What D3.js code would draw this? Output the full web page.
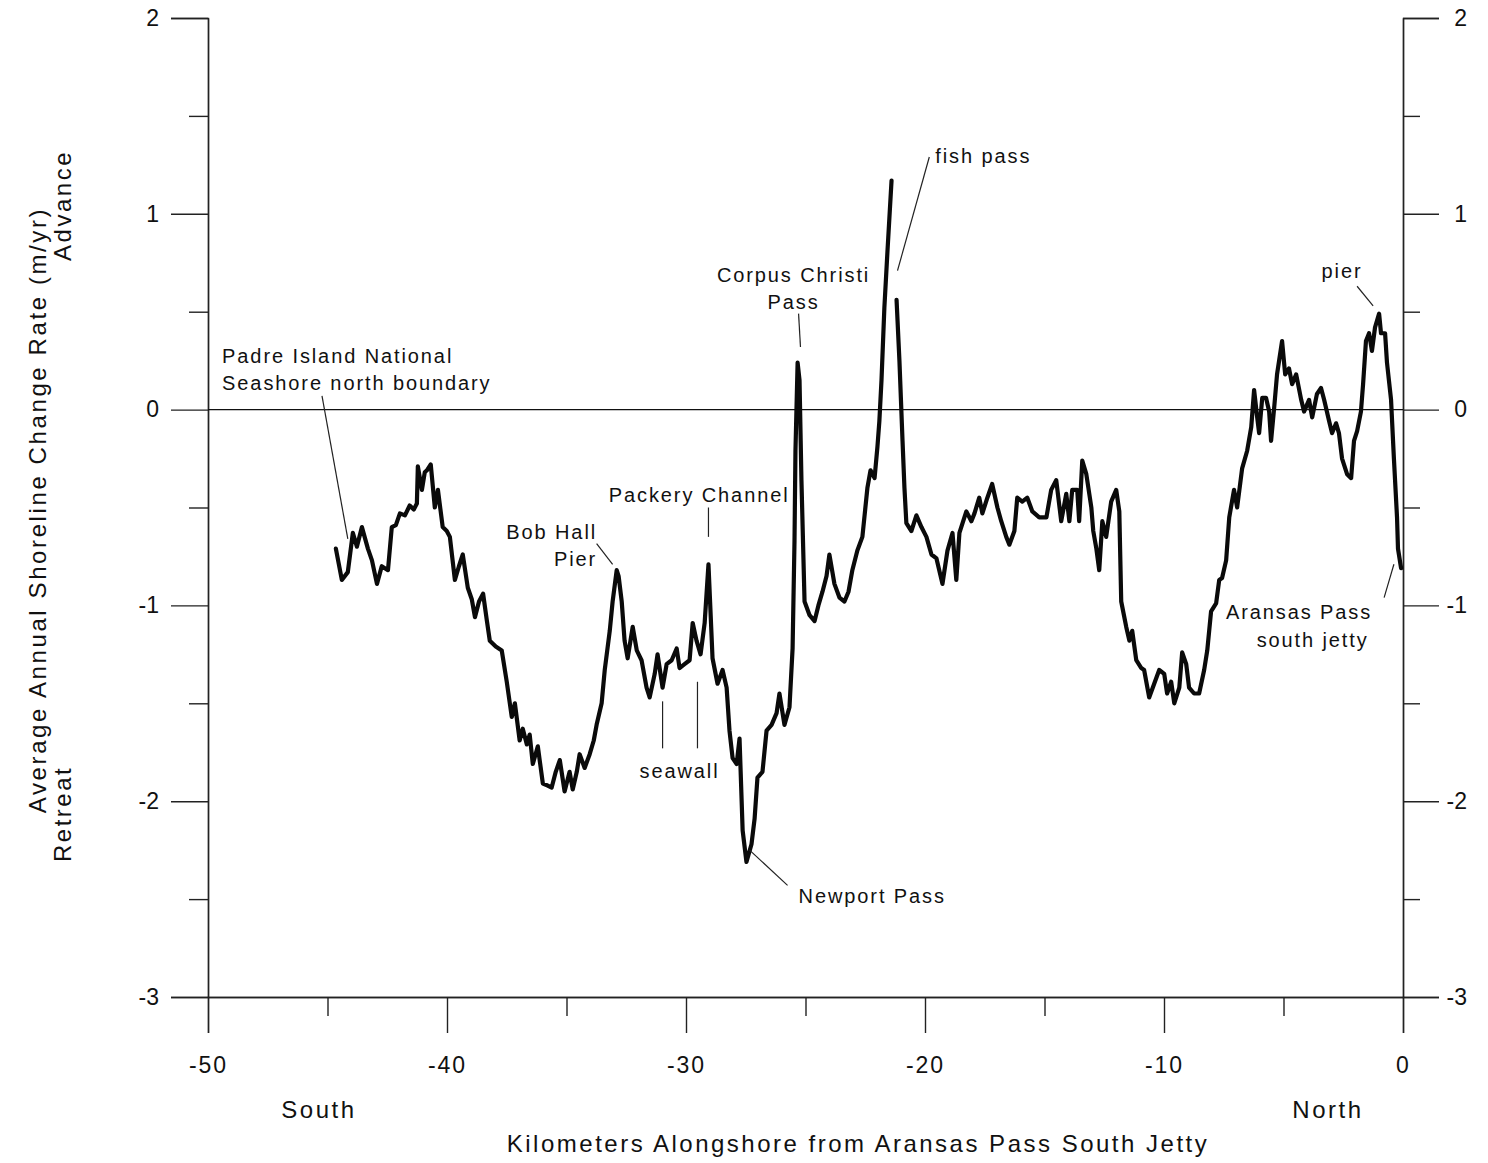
<!DOCTYPE html>
<html>
<head>
<meta charset="utf-8">
<script src="https://cdn.jsdelivr.net/npm/d3@7"></script>
<style>
  body { margin: 0; background: #fff; }
  text { font-family: "Liberation Sans", Arial, sans-serif; fill: #111; }
</style>
</head>
<body>
<div id="chart"></div>
<script>
// Shoreline change rate along the coast
// km alongshore (negative = south of the jetty), rate in m/yr. NaN marks the gap at fish pass.
const km = [
  -44.65, -44.40, -44.15, -43.94, -43.77, -43.56, -43.31, -43.14, -42.93, -42.73,
  -42.47, -42.31, -42.14, -41.97, -41.76, -41.56, -41.39, -41.26, -41.22, -41.05,
  -40.93, -40.84, -40.68, -40.51, -40.38, -40.18, -40.01, -39.88, -39.67, -39.50,
  -39.34, -39.13, -38.96, -38.83, -38.66, -38.49, -38.33, -38.21, -37.96, -37.71,
  -37.50, -37.29, -37.16, -36.96, -36.83, -36.66, -36.54, -36.41, -36.20, -35.99,
  -35.79, -35.62, -35.45, -35.28, -35.08, -34.87, -34.74, -34.57, -34.45, -34.24,
  -34.03, -33.86, -33.74, -33.53, -33.40, -33.19, -33.07, -32.90, -32.82, -32.69,
  -32.57, -32.44, -32.23, -32.06, -31.86, -31.65, -31.52, -31.31, -31.19, -30.98,
  -30.81, -30.60, -30.39, -30.27, -30.06, -29.85, -29.72, -29.56, -29.39, -29.22,
  -29.06, -28.89, -28.68, -28.47, -28.30, -28.18, -28.05, -27.88, -27.76, -27.63,
  -27.47, -27.26, -27.13, -27.01, -26.80, -26.63, -26.42, -26.21, -26.09, -25.88,
  -25.67, -25.54, -25.46, -25.42, -25.33, -25.25, -25.17, -25.04, -24.83, -24.62,
  -24.46, -24.29, -24.12, -24.00, -23.79, -23.58, -23.37, -23.20, -23.04, -22.83,
  -22.62, -22.41, -22.28, -22.11, -21.99, -21.91, -21.82, -21.70, -21.57, -21.40,
  -21.30, -21.19, -21.07, -20.94, -20.86, -20.78, -20.57, -20.36, -20.15, -19.94,
  -19.73, -19.52, -19.27, -19.06, -18.85, -18.69, -18.56, -18.27, -18.06, -17.93,
  -17.73, -17.60, -17.39, -17.19, -16.97, -16.81, -16.60, -16.47, -16.26, -16.14,
  -15.93, -15.72, -15.51, -15.22, -14.92, -14.72, -14.51, -14.30, -14.09, -13.96,
  -13.84, -13.63, -13.55, -13.42, -13.25, -13.04, -12.96, -12.83, -12.71, -12.58,
  -12.42, -12.21, -12.00, -11.87, -11.79, -11.58, -11.45, -11.33, -11.16, -10.95,
  -10.83, -10.62, -10.41, -10.20, -9.99, -9.87, -9.70, -9.57, -9.36, -9.24,
  -9.07, -8.95, -8.74, -8.53, -8.32, -8.19, -8.03, -7.82, -7.69, -7.57,
  -7.40, -7.27, -7.07, -6.94, -6.73, -6.52, -6.35, -6.23, -6.10, -6.02,
  -5.89, -5.73, -5.60, -5.52, -5.39, -5.27, -5.06, -4.93, -4.77, -4.64,
  -4.47, -4.26, -4.14, -3.93, -3.80, -3.60, -3.43, -3.30, -3.09, -2.97,
  -2.80, -2.68, -2.55, -2.34, -2.17, -2.05, -1.92, -1.76, -1.67, -1.55,
  -1.42, -1.30, -1.17, -1.00, -0.92, -0.75, -0.67, -0.50, -0.38, -0.25,
  -0.21, -0.08
]
const rate = [
  -0.71, -0.87, -0.83, -0.63, -0.70, -0.60, -0.71, -0.77, -0.89, -0.80,
  -0.82, -0.60, -0.59, -0.53, -0.54, -0.49, -0.51, -0.48, -0.29, -0.41,
  -0.32, -0.31, -0.28, -0.50, -0.41, -0.60, -0.62, -0.65, -0.87, -0.80,
  -0.74, -0.91, -0.97, -1.06, -0.98, -0.94, -1.08, -1.18, -1.21, -1.23,
  -1.39, -1.57, -1.50, -1.69, -1.63, -1.71, -1.66, -1.81, -1.72, -1.91,
  -1.92, -1.93, -1.85, -1.79, -1.95, -1.85, -1.94, -1.85, -1.76, -1.83,
  -1.76, -1.69, -1.61, -1.50, -1.33, -1.13, -0.98, -0.82, -0.85, -0.98,
  -1.18, -1.27, -1.11, -1.23, -1.28, -1.42, -1.47, -1.35, -1.25, -1.42,
  -1.30, -1.28, -1.22, -1.32, -1.30, -1.28, -1.09, -1.18, -1.25, -1.09,
  -0.79, -1.27, -1.40, -1.33, -1.42, -1.64, -1.78, -1.81, -1.68, -2.15,
  -2.31, -2.22, -2.09, -1.88, -1.85, -1.64, -1.61, -1.55, -1.45, -1.61,
  -1.52, -1.22, -0.67, -0.21, 0.24, 0.15, -0.36, -0.98, -1.05, -1.08,
  -1.00, -0.93, -0.85, -0.74, -0.89, -0.96, -0.98, -0.93, -0.82, -0.72,
  -0.65, -0.40, -0.31, -0.35, -0.19, -0.06, 0.15, 0.52, 0.81, 1.17,
  NaN, 0.56, 0.25, -0.16, -0.40, -0.58, -0.62, -0.54, -0.60, -0.65,
  -0.74, -0.76, -0.89, -0.72, -0.63, -0.87, -0.63, -0.52, -0.57, -0.53,
  -0.45, -0.53, -0.45, -0.38, -0.50, -0.57, -0.65, -0.69, -0.62, -0.45,
  -0.47, -0.45, -0.52, -0.55, -0.55, -0.41, -0.36, -0.57, -0.43, -0.57,
  -0.41, -0.41, -0.57, -0.26, -0.33, -0.50, -0.62, -0.71, -0.82, -0.57,
  -0.65, -0.47, -0.41, -0.52, -0.98, -1.11, -1.18, -1.13, -1.28, -1.32,
  -1.33, -1.47, -1.40, -1.33, -1.35, -1.45, -1.39, -1.50, -1.42, -1.24,
  -1.30, -1.42, -1.45, -1.45, -1.33, -1.23, -1.03, -0.99, -0.87, -0.86,
  -0.77, -0.55, -0.41, -0.50, -0.30, -0.21, -0.09, 0.10, -0.04, -0.12,
  0.06, 0.06, -0.01, -0.16, 0.01, 0.18, 0.35, 0.18, 0.21, 0.13,
  0.18, 0.05, -0.01, 0.05, -0.04, 0.08, 0.11, 0.05, -0.06, -0.12,
  -0.07, -0.12, -0.25, -0.33, -0.35, -0.16, -0.11, -0.01, 0.13, 0.35,
  0.39, 0.30, 0.42, 0.49, 0.39, 0.39, 0.24, 0.05, -0.25, -0.55,
  -0.71, -0.81
]

const xTicks = [-50, -40, -30, -20, -10, 0]
const xMinorTicks = [-45, -35, -25, -15, -5]
const yTicks = [-3, -2, -1, 0, 1, 2]
const yMinorTicks = [-2.5, -1.5, -0.5, 0.5, 1.5]

// Labelled features: text lines anchored at (km, rate), leader lines from -> to
const labels = [
  {lines: ["Padre Island National", "Seashore north boundary"], x: -49.41, y: 0.24, anchor: "start"},
  {lines: ["Bob Hall", "Pier"], x: -33.72, y: -0.66, anchor: "end"},
  {lines: ["Packery Channel"], x: -29.45, y: -0.47, anchor: "middle"},
  {lines: ["Corpus Christi", "Pass"], x: -25.50, y: 0.65, anchor: "middle"},
  {lines: ["fish pass"], x: -19.57, y: 1.26, anchor: "start"},
  {lines: ["seawall"], x: -30.27, y: -1.88, anchor: "middle"},
  {lines: ["Newport Pass"], x: -25.29, y: -2.52, anchor: "start"},
  {lines: ["pier"], x: -2.55, y: 0.67, anchor: "middle"},
  {lines: ["Aransas Pass"], x: -4.35, y: -1.07, anchor: "middle"},
  {lines: ["south jetty"], x: -3.78, y: -1.21, anchor: "middle"}
]
const leaders = [
  [[-45.23, 0.07], [-44.15, -0.66]],
  [[-33.74, -0.685], [-33.07, -0.79]],
  [[-29.06, -0.50], [-29.06, -0.65]],
  [[-25.29, 0.49], [-25.21, 0.32]],
  [[-19.82, 1.29], [-21.15, 0.71]],
  [[-30.98, -1.49], [-30.98, -1.73]],
  [[-29.52, -1.39], [-29.52, -1.73]],
  [[-27.34, -2.25], [-25.75, -2.43]],
  [[-1.92, 0.63], [-1.25, 0.53]],
  [[-0.38, -0.79], [-0.79, -0.96]]
]

const WIDTH = 1488
const HEIGHT = 1163
const PLOT = {LEFT: 208, RIGHT: 1403, TOP: 18, BOTTOM: 997}

const svg = d3.select("#chart").append("svg")
    .attr("width", WIDTH)
    .attr("height", HEIGHT)

const x = d3.scaleLinear().domain([-50, 0]).range([PLOT.LEFT, PLOT.RIGHT])
const y = d3.scaleLinear().domain([-3, 2]).range([PLOT.BOTTOM, PLOT.TOP])

const fmt = d => String(d)

function styleAxis(g) {
    g.select(".domain").attr("stroke", "#222").attr("stroke-width", 1.4)
    g.selectAll(".tick line").attr("stroke", "#222").attr("stroke-width", 1.4)
    g.selectAll(".tick text").style("font-size", "23px").attr("fill", "#111")
}

// left axis, major and minor ticks
svg.append("g").attr("transform", `translate(${PLOT.LEFT},0)`)
    .call(d3.axisLeft(y).tickValues(yTicks).tickSize(37).tickPadding(12).tickFormat(fmt))
    .call(styleAxis)
svg.append("g").attr("transform", `translate(${PLOT.LEFT},0)`)
    .call(d3.axisLeft(y).tickValues(yMinorTicks).tickSize(19).tickSizeOuter(0).tickFormat(""))
    .call(styleAxis)

// right axis
svg.append("g").attr("transform", `translate(${PLOT.RIGHT},0)`)
    .call(d3.axisRight(y).tickValues(yTicks).tickSize(36).tickPadding(28).tickFormat(fmt))
    .call(styleAxis)
    .call(g => g.selectAll(".tick text").attr("text-anchor", "end").attr("x", 64))
svg.append("g").attr("transform", `translate(${PLOT.RIGHT},0)`)
    .call(d3.axisRight(y).tickValues(yMinorTicks).tickSize(17).tickSizeOuter(0).tickFormat(""))
    .call(styleAxis)

// bottom axis
svg.append("g").attr("transform", `translate(0,${PLOT.BOTTOM})`)
    .call(d3.axisBottom(x).tickValues(xTicks).tickSize(36).tickPadding(24).tickFormat(fmt))
    .call(styleAxis)
    .call(g => g.selectAll(".tick text").style("letter-spacing", "2px"))
svg.append("g").attr("transform", `translate(0,${PLOT.BOTTOM})`)
    .call(d3.axisBottom(x).tickValues(xMinorTicks).tickSize(19).tickSizeOuter(0).tickFormat(""))
    .call(styleAxis)

// zero line
svg.append("line")
    .attr("x1", x(-50)).attr("x2", x(0))
    .attr("y1", y(0)).attr("y2", y(0))
    .attr("stroke", "#111").attr("stroke-width", 1.3)

// the shoreline change curve
const data = km.map((k, i) => ({km: k, rate: rate[i]}))
const line = d3.line()
    .defined(d => !isNaN(d.rate))
    .x(d => x(d.km))
    .y(d => y(d.rate))

svg.append("path")
    .datum(data)
    .attr("d", line)
    .attr("fill", "none")
    .attr("stroke", "#0a0a0a")
    .attr("stroke-width", 4.2)
    .attr("stroke-linejoin", "round")
    .attr("stroke-linecap", "round")

// leader lines
svg.selectAll(".leader")
    .data(leaders)
    .enter().append("line")
    .attr("x1", d => x(d[0][0])).attr("y1", d => y(d[0][1]))
    .attr("x2", d => x(d[1][0])).attr("y2", d => y(d[1][1]))
    .attr("stroke", "#222").attr("stroke-width", 1.2)

// feature labels
labels.forEach(l => {
    const t = svg.append("text")
        .attr("x", x(l.x)).attr("y", y(l.y))
        .attr("text-anchor", l.anchor)
        .style("font-size", "20px")
        .style("letter-spacing", "1.9px")
    l.lines.forEach((s, i) => {
        t.append("tspan").attr("x", x(l.x)).attr("dy", i ? 27 : 0).text(s)
    })
})

// direction words and axis titles
svg.append("text").attr("x", x(-45.36)).attr("y", 1118).attr("text-anchor", "middle")
    .style("font-size", "24px").style("letter-spacing", "2.5px").text("South")
svg.append("text").attr("x", x(-3.14)).attr("y", 1118).attr("text-anchor", "middle")
    .style("font-size", "24px").style("letter-spacing", "2.5px").text("North")
svg.append("text").attr("x", 858).attr("y", 1152).attr("text-anchor", "middle")
    .style("font-size", "24px").style("letter-spacing", "2.5px")
    .text("Kilometers Alongshore from Aransas Pass South Jetty")

svg.append("text").attr("transform", "translate(46,510) rotate(-90)")
    .attr("text-anchor", "middle").style("font-size", "24px").style("letter-spacing", "2.6px")
    .text("Average Annual Shoreline Change Rate (m/yr)")
svg.append("text").attr("transform", "translate(71,150) rotate(-90)")
    .attr("text-anchor", "end").style("font-size", "24px").style("letter-spacing", "2.5px")
    .text("Advance")
svg.append("text").attr("transform", "translate(71,862) rotate(-90)")
    .attr("text-anchor", "start").style("font-size", "24px").style("letter-spacing", "2.5px")
    .text("Retreat")
</script>
</body>
</html>
